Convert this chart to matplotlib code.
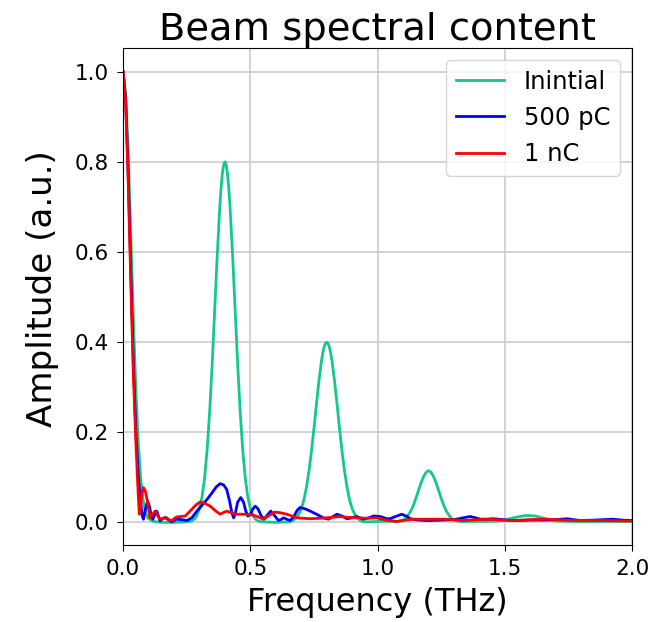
import matplotlib
matplotlib.use('Agg')
import matplotlib.pyplot as plt
import numpy as np

# values (frequency in THz, amplitude in a.u.)
freq_init = [0.00, 0.01, 0.02, 0.03, 0.04, 0.05, 0.06, 0.07, 0.08, 0.09, 0.10, 0.12, 0.15, 0.20,
             0.25, 0.27, 0.28, 0.29, 0.30, 0.31, 0.32, 0.33, 0.34, 0.35, 0.36, 0.37, 0.38, 0.385,
             0.39, 0.395, 0.40, 0.405, 0.41, 0.415, 0.42, 0.43, 0.44, 0.45, 0.46, 0.47, 0.48, 0.49,
             0.50, 0.51, 0.52, 0.53, 0.55, 0.60, 0.65, 0.66, 0.67, 0.68, 0.69, 0.70, 0.71, 0.72,
             0.73, 0.74, 0.75, 0.76, 0.77, 0.78, 0.785, 0.79, 0.795, 0.80, 0.805, 0.81, 0.815, 0.82,
             0.83, 0.84, 0.85, 0.86, 0.87, 0.88, 0.89, 0.90, 0.91, 0.92, 0.93, 0.94, 0.96, 1.00,
             1.05, 1.08, 1.10, 1.11, 1.12, 1.13, 1.14, 1.15, 1.16, 1.17, 1.18, 1.19, 1.20, 1.21,
             1.22, 1.23, 1.24, 1.25, 1.26, 1.27, 1.28, 1.29, 1.30, 1.32, 1.40, 1.48, 1.50, 1.52,
             1.54, 1.56, 1.58, 1.60, 1.62, 1.64, 1.66, 1.68, 1.70, 1.75, 1.85, 2.00]
amp_init = [1.000, 0.952, 0.823, 0.645, 0.458, 0.295, 0.172, 0.091, 0.044, 0.019, 0.008, 0.002, 0.000, 0.000,
            0.001, 0.003, 0.007, 0.015, 0.030, 0.056, 0.098, 0.160, 0.245, 0.352, 0.473, 0.595, 0.701, 0.743,
            0.774, 0.793, 0.800, 0.793, 0.774, 0.743, 0.701, 0.595, 0.473, 0.352, 0.245, 0.160, 0.098, 0.056,
            0.030, 0.015, 0.007, 0.003, 0.001, 0.000, 0.001, 0.002, 0.005, 0.010, 0.018, 0.030, 0.049, 0.077,
            0.113, 0.158, 0.210, 0.265, 0.317, 0.361, 0.377, 0.390, 0.397, 0.400, 0.397, 0.390, 0.377, 0.361,
            0.317, 0.265, 0.210, 0.158, 0.113, 0.077, 0.049, 0.030, 0.018, 0.010, 0.005, 0.002, 0.001, 0.002,
            0.003, 0.002, 0.005, 0.009, 0.016, 0.025, 0.037, 0.053, 0.070, 0.087, 0.101, 0.111, 0.115, 0.111,
            0.101, 0.087, 0.070, 0.053, 0.037, 0.025, 0.016, 0.009, 0.005, 0.002, 0.002, 0.003, 0.005, 0.008,
            0.011, 0.013, 0.015, 0.015, 0.014, 0.011, 0.008, 0.005, 0.003, 0.002, 0.002, 0.002]

freq_500pc = [0.000, 0.010, 0.020, 0.030, 0.040, 0.050, 0.060, 0.070, 0.075, 0.080, 0.088, 0.096, 0.104,
              0.110, 0.117, 0.125, 0.132, 0.139, 0.145, 0.155, 0.165, 0.177, 0.190, 0.200, 0.210, 0.230,
              0.250, 0.270, 0.290, 0.310, 0.330, 0.350, 0.365, 0.381, 0.395, 0.407, 0.418, 0.427, 0.434,
              0.441, 0.450, 0.462, 0.473, 0.482, 0.490, 0.500, 0.510, 0.519, 0.530, 0.542, 0.554, 0.565,
              0.580, 0.595, 0.610, 0.620, 0.630, 0.643, 0.656, 0.670, 0.683, 0.695, 0.715, 0.735, 0.760,
              0.787, 0.807, 0.825, 0.840, 0.860, 0.879, 0.900, 0.918, 0.944, 0.965, 0.984, 1.010, 1.036,
              1.049, 1.070, 1.095, 1.115, 1.128, 1.160, 1.200, 1.250, 1.300, 1.335, 1.363, 1.385, 1.403,
              1.430, 1.455, 1.490, 1.534, 1.600, 1.660, 1.700, 1.743, 1.770, 1.796, 1.850, 1.925, 1.960,
              2.000]
amp_500pc = [1.000, 0.938, 0.775, 0.563, 0.360, 0.203, 0.101, 0.040, 0.015, 0.007, 0.030, 0.047, 0.035,
             0.015, 0.007, 0.018, 0.025, 0.014, 0.003, 0.008, 0.011, 0.006, 0.001, 0.004, 0.007, 0.006,
             0.004, 0.010, 0.025, 0.038, 0.051, 0.066, 0.078, 0.086, 0.083, 0.073, 0.048, 0.022, 0.010,
             0.020, 0.045, 0.055, 0.045, 0.025, 0.014, 0.018, 0.030, 0.036, 0.030, 0.015, 0.007, 0.015,
             0.025, 0.015, 0.004, 0.006, 0.010, 0.007, 0.004, 0.012, 0.026, 0.033, 0.030, 0.025, 0.018,
             0.010, 0.007, 0.013, 0.018, 0.014, 0.008, 0.010, 0.013, 0.007, 0.010, 0.014, 0.013, 0.008,
             0.008, 0.013, 0.018, 0.013, 0.008, 0.005, 0.004, 0.005, 0.006, 0.010, 0.013, 0.010, 0.007,
             0.007, 0.008, 0.006, 0.004, 0.005, 0.005, 0.006, 0.008, 0.006, 0.004, 0.005, 0.007, 0.005,
             0.004]

freq_1nc = [0.000, 0.010, 0.020, 0.030, 0.040, 0.050, 0.057, 0.062, 0.064, 0.068, 0.074, 0.080, 0.087,
            0.093, 0.100, 0.106, 0.116, 0.126, 0.136, 0.145, 0.158, 0.172, 0.180, 0.190, 0.200, 0.210,
            0.227, 0.244, 0.258, 0.270, 0.287, 0.303, 0.322, 0.342, 0.362, 0.381, 0.395, 0.407, 0.422,
            0.440, 0.473, 0.512, 0.535, 0.551, 0.575, 0.597, 0.620, 0.643, 0.663, 0.683, 0.735, 0.770,
            0.800, 0.853, 0.885, 0.918, 0.960, 0.997, 1.010, 1.040, 1.075, 1.110, 1.140, 1.200, 1.270,
            1.337, 1.390, 1.442, 1.490, 1.534, 1.600, 1.665, 1.730, 1.796, 1.880, 1.990, 2.000]
amp_1nc = [1.000, 0.934, 0.760, 0.539, 0.334, 0.180, 0.090, 0.035, 0.018, 0.035, 0.065, 0.077, 0.070,
           0.055, 0.030, 0.010, 0.018, 0.025, 0.015, 0.007, 0.009, 0.010, 0.006, 0.003, 0.008, 0.012,
           0.013, 0.014, 0.022, 0.029, 0.039, 0.045, 0.042, 0.036, 0.026, 0.018, 0.022, 0.025, 0.022,
           0.018, 0.018, 0.016, 0.011, 0.007, 0.016, 0.023, 0.021, 0.018, 0.014, 0.010, 0.008, 0.009,
           0.010, 0.013, 0.011, 0.010, 0.009, 0.010, 0.008, 0.004, 0.002, 0.005, 0.007, 0.007, 0.007,
           0.004, 0.006, 0.007, 0.005, 0.004, 0.006, 0.007, 0.005, 0.004, 0.004, 0.003, 0.003]

labels = ['Inintial', '500 pC', '1 nC']
colors = ['#12c98a', 'blue', 'red']

fig = plt.figure(figsize=(6.69, 6.22), dpi=100)
ax = fig.add_axes([0.184, 0.124, 0.761, 0.799])

ax.plot(freq_init, amp_init, color=colors[0], lw=2, label=labels[0])
ax.plot(freq_500pc, amp_500pc, color=colors[1], lw=2, label=labels[1])
ax.plot(freq_1nc, amp_1nc, color=colors[2], lw=2, label=labels[2])

ax.set_xlim(0, 2.0)
ax.set_ylim(-0.05, 1.053)
ax.set_xticks([0.0, 0.5, 1.0, 1.5, 2.0])
ax.set_yticks([0.0, 0.2, 0.4, 0.6, 0.8, 1.0])
ax.tick_params(labelsize=15.5, pad=6, length=4)
ax.grid(True, color='#cccccc', lw=1.2)

ax.set_title('Beam spectral content', fontsize=27.7)
ax.set_xlabel('Frequency (THz)', fontsize=23, labelpad=6)
ax.set_ylabel('Amplitude (a.u.)', fontsize=24.6)
ax.yaxis.set_label_coords(-0.125, 0.515)
ax.legend(loc='upper right', fontsize=17.5)

fig.savefig('out.png', dpi=100)
